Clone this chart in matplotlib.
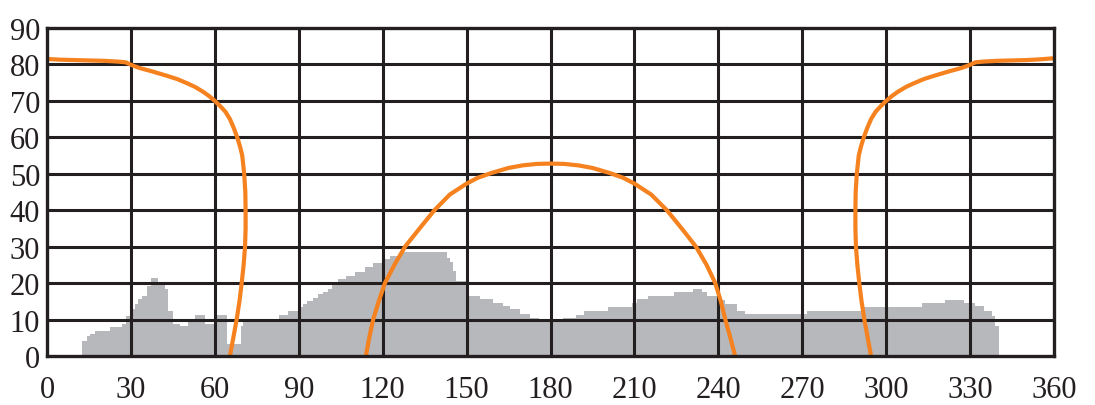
import matplotlib
matplotlib.use("Agg")
import matplotlib.pyplot as plt

# horizon profile (azimuth start of each step, elevation)
horizon_az = [12.4, 14.2, 15.4, 17.2, 22.5, 26.7, 28.2, 30.3, 31.5, 32.7,
              33.9, 35.6, 37.1, 39.8, 42.2, 43.4, 44.9, 47.5, 50.5, 52.9,
              56.5, 59.8, 64.5, 67.0, 70.0, 83.0, 86.0, 90.0, 91.6, 93.0,
              95.0, 97.0, 98.7, 100.5, 102.0, 104.0, 107.0, 110.0, 113.7, 116.6,
              120.0, 122.6, 127.0, 142.9, 144.0, 145.3, 146.2, 150.0, 154.8, 159.6,
              163.1, 165.5, 169.1, 172.7, 176.0, 184.5, 189.0, 191.8, 200.7, 209.0,
              211.0, 215.0, 224.0, 231.0, 234.0, 236.0, 240.0, 242.4, 246.6, 249.5,
              271.7, 291.8, 312.8, 321.0, 328.0, 331.8, 335.0, 337.7, 339.0, 340.4]
horizon_el = [4.2, 5.4, 6.0, 6.9, 7.9, 8.8, 11.0, 12.9, 14.2, 15.6,
              16.5, 19.2, 21.3, 19.7, 18.5, 12.4, 8.8, 8.3, 9.5, 11.2,
              8.8, 11.2, 8.8, 8.3, 9.9, 11.2, 12.4, 13.5, 14.2, 15.0,
              16.0, 17.0, 17.5, 18.3, 19.5, 21.0, 22.0, 23.0, 24.3, 25.4,
              26.5, 27.4, 28.4, 27.0, 25.7, 23.3, 20.6, 16.5, 15.6, 14.5,
              13.6, 12.9, 11.5, 10.3, 9.7, 10.3, 11.2, 12.4, 13.4, 14.5,
              15.6, 16.5, 17.5, 18.3, 17.5, 16.5, 15.5, 14.2, 12.4, 11.5,
              12.4, 13.4, 14.5, 15.4, 14.5, 13.7, 12.4, 11.0, 8.3, 8.3]

# gap in the horizon near 65-70 deg
gap_az = [64.5, 69.5]
gap_lo = [3.3, 3.3]
gap_hi = [9.3, 9.3]

# summer sun path, morning side (north)
summer_am_az = [0, 5, 10, 15, 20, 25, 28, 31, 33.2, 38, 42.8, 46.5, 49.9, 53, 55.8,
                58, 60, 62, 63.8, 65.4, 66.8, 68, 69, 69.8, 70.5, 70.9, 71, 71,
                70.8, 70.3, 69.6, 68.8, 67.8, 66.6, 65.4]
summer_am_el = [81.5, 81.3, 81.2, 81.1, 81.0, 80.8, 80.6, 79.6, 79.0, 78.0, 76.9, 76.0,
                74.9, 73.8, 72.5, 71.3, 70, 68.5, 67, 65, 62.5, 60, 57.5, 55, 50,
                45, 40, 35, 30, 25, 20, 15, 10, 5, 0]

# summer sun path, evening side
summer_pm_az = [294.6, 293.4, 292.2, 291.2, 290.4, 289.7, 289.2, 289.0, 289.0, 289.1,
                289.5, 290.2, 291.0, 292.0, 293.2, 294.6, 296.2, 298.0, 300.0, 302.0,
                304.2, 307.0, 310.1, 313.5, 317.2, 322.0, 326.8, 329.0, 332.0, 335.0,
                340.0, 345.0, 350.0, 355.0, 360.0]
summer_pm_el = [0, 5, 10, 15, 20, 25, 30, 35, 40, 45,
                50, 55, 57.5, 60, 62.5, 65, 67, 68.5, 70, 71.3,
                72.5, 73.8, 74.9, 76.0, 76.9, 78.0, 79.0, 79.6, 80.6, 80.8,
                81.0, 81.1, 81.2, 81.4, 81.7]

# winter sun path
winter_az = [114.0, 115.2, 116.6, 118.6, 120.8, 124.2, 128.0, 133.2, 138.5, 144.0,
             150.0, 154.0, 158.8, 165.0, 170.0, 175.0, 180.0, 185.0, 190.0, 195.0,
             201.2, 206.0, 210.0, 216.0, 221.6, 226.9, 232.0, 235.8, 238.9, 240.9,
             242.5, 244.3, 246.0]
winter_el = [0, 5, 10, 15, 20, 25, 30, 35, 40, 44.3,
             47.3, 48.9, 50.2, 51.6, 52.3, 52.7, 52.8, 52.7, 52.3, 51.6,
             50.2, 48.9, 47.3, 44.3, 40, 35, 30, 25, 20, 15,
             10, 5, 0]

grey = "#b7b8bb"
orange = "#f5821f"
ink = "#231f20"

plt.rcParams["font.family"] = ["Liberation Serif", "DejaVu Serif"]

fig = plt.figure(figsize=(10.95, 4.06), dpi=100)
ax = fig.add_axes([47 / 1095, 49 / 406, 1007 / 1095, 328 / 406])

ax.fill_between(horizon_az, horizon_el, 0, step="post", color=grey, lw=0, zorder=1)
ax.fill_between(gap_az, gap_lo, gap_hi, color="white", lw=0, zorder=1.5)

for v in range(30, 360, 30):
    ax.axvline(v, color=ink, lw=2.2, zorder=2)
for h in range(10, 90, 10):
    ax.axhline(h, color=ink, lw=2.2, zorder=2)

ax.plot(summer_am_az, summer_am_el, color=orange, lw=3, zorder=3)
ax.plot(summer_pm_az, summer_pm_el, color=orange, lw=3, zorder=3)
ax.plot(winter_az, winter_el, color=orange, lw=3, zorder=3)

ax.set_xlim(0, 360)
ax.set_ylim(0, 90)
ax.set_xticks(range(0, 361, 30))
ax.set_yticks(range(0, 91, 10))
ax.tick_params(length=0, labelsize=22, colors=ink)
ax.tick_params(axis="x", pad=14)
ax.tick_params(axis="y", pad=5)
for s in ax.spines.values():
    s.set_color(ink)
    s.set_linewidth(2.4)
    s.set_zorder(4)

fig.savefig("out.png", dpi=100)
